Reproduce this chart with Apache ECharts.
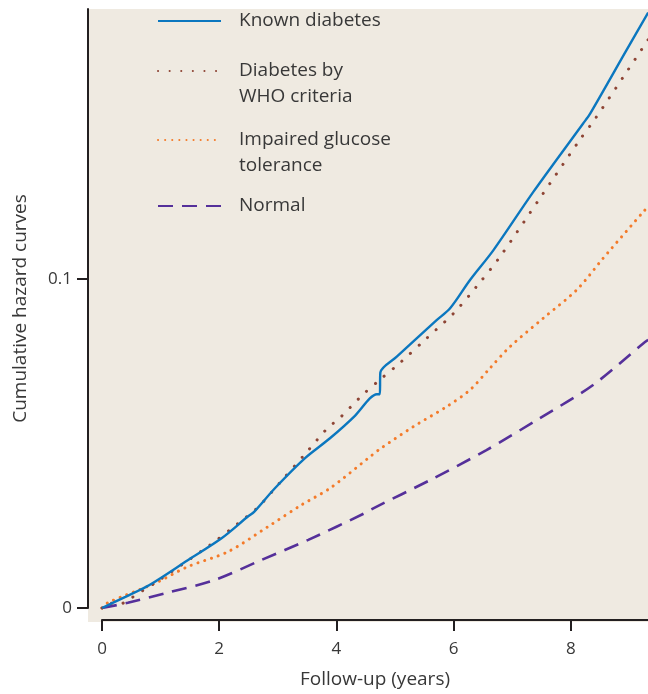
<!DOCTYPE html>
<html>
<head>
<meta charset="utf-8">
<script src="https://cdn.jsdelivr.net/npm/echarts@6/dist/echarts.min.js"></script>
<style>html,body{margin:0;padding:0;background:#fff;}#c{width:648px;height:694px;}</style>
</head>
<body>
<div id="c"></div>
<script>
// ---- data (x = follow-up years, y = cumulative hazard) ----
var seriesNames = ['Known diabetes', 'Diabetes by\nWHO criteria', 'Impaired glucose\ntolerance', 'Normal'];
var knownDiabetes = [[0,0],[0.4,0.0034],[0.81,0.007],[1.47,0.0146],[2.04,0.0212],[2.49,0.0278],[2.6,0.0293],[2.95,0.0364],[3.46,0.0455],[3.89,0.0516],[4.32,0.0585],[4.57,0.0637],[4.69,0.065],[4.74,0.065],[4.75,0.0716],[5.03,0.0764],[5.71,0.0875],[5.94,0.0911],[6.28,0.0997],[6.68,0.1088],[7.36,0.1265],[8.21,0.1473],[8.33,0.1503],[8.95,0.1696],[9.32,0.181]];
var whoDiabetes = [[0,0],[0.1,0.0015],[0.3,0.0012],[0.47,0.0027],[0.67,0.005],[0.98,0.0085],[1.84,0.0191],[2.32,0.0257],[2.66,0.0306],[3.06,0.0386],[3.46,0.0467],[3.86,0.0549],[4.03,0.0573],[4.46,0.065],[4.77,0.0698],[5.09,0.0746],[5.54,0.082],[6.0,0.0896],[6.39,0.0977],[6.78,0.1065],[7.47,0.1245],[8.16,0.1425],[8.41,0.1486],[8.98,0.1637],[9.32,0.1728]];
var impairedGlucose = [[0,0],[0.1,0.0016],[0.9,0.0075],[1.47,0.0126],[2.15,0.0171],[2.83,0.0247],[3.4,0.0313],[3.89,0.0364],[4.54,0.0455],[4.74,0.0483],[5.31,0.0551],[5.88,0.0612],[6.28,0.0663],[6.62,0.0729],[6.96,0.0794],[7.53,0.0881],[8.1,0.0967],[8.55,0.1063],[8.67,0.1088],[9.24,0.1205],[9.32,0.122]];
var normal = [[0,0],[0.44,0.0016],[1.13,0.0047],[1.92,0.0085],[2.72,0.0146],[3.52,0.0207],[4.48,0.0288],[4.63,0.0303],[5.6,0.0389],[6.56,0.048],[7.47,0.0577],[8.38,0.0678],[9.24,0.0805],[9.32,0.0815]];
var xTicks = [0, 2, 4, 6, 8];
var yTicks = [0, 0.1];
var yTickLabels = ['0', '0.1'];

var FONT = '"Open Sans", "Noto Sans", sans-serif';
var TXT = '#383838';
var AX = '#231f20';
var colors = ['#0b77bf', '#8e4535', '#f47b2a', '#55309a'];
var styles = [
  {width: 2.4, type: 'solid'},
  {width: 3, type: [0.1, 11.5], cap: 'round'},
  {width: 3, type: [0.1, 7], cap: 'round'},
  {width: 2.6, type: [15, 9], cap: 'butt'}
];
var datasets = [knownDiabetes, whoDiabetes, impairedGlucose, normal];
var legendTops = [8, 32, 101, 193];

var series = datasets.map(function (d, i) {
  return {
    type: 'line', name: seriesNames[i], data: d,
    xAxisIndex: 0, yAxisIndex: 0,
    symbol: 'none', showSymbol: false, smooth: 0.3,
    lineStyle: Object.assign({color: colors[i]}, styles[i]),
    itemStyle: {color: colors[i]},
    z: 10 - i
  };
});

var legends = seriesNames.map(function (n, i) {
  return {
    data: [n], left: 157, top: legendTops[i], padding: 0,
    itemWidth: 63, itemHeight: 14, selectedMode: false,
    itemStyle: {opacity: 0},
    formatter: function (name) { return name.indexOf('\n') >= 0 ? '\n' + name : name; },
    textStyle: {fontFamily: FONT, fontSize: 19, color: TXT, lineHeight: 26, padding: [0, 0, 0, 13]}
  };
});

var chart = echarts.init(document.getElementById('c'), null, {renderer: 'canvas'});
chart.setOption({
  animation: false,
  backgroundColor: '#ffffff',
  grid: [
    {left: 88, right: 0, top: 9, bottom: 72, show: true, backgroundColor: '#efeae1', borderWidth: 0},
    {left: 102, right: 0, top: 9, bottom: 72, show: false},
    {left: 88, right: 0, top: 9, bottom: 86, show: false}
  ],
  xAxis: [
    {gridIndex: 0, type: 'value', min: -0.239, max: 9.317, show: false},
    {gridIndex: 1, type: 'value', min: 0, max: 9.317, interval: 2, position: 'bottom',
      axisLine: {show: true, lineStyle: {color: AX, width: 2}},
      axisTick: {show: true, length: 11, lineStyle: {color: AX, width: 2}, customValues: xTicks},
      axisLabel: {show: true, margin: 21, fontFamily: FONT, fontSize: 17, color: TXT, customValues: xTicks},
      splitLine: {show: false},
      name: 'Follow-up (years)', nameLocation: 'middle', nameGap: 50,
      nameTextStyle: {fontFamily: FONT, fontSize: 19, color: TXT}},
    {gridIndex: 2, type: 'value', show: false, min: 0, max: 1}
  ],
  yAxis: [
    {gridIndex: 0, type: 'value', min: -0.00426, max: 0.1821, show: false},
    {gridIndex: 1, type: 'value', show: false, min: 0, max: 1},
    {gridIndex: 2, type: 'value', min: 0, max: 0.1821, interval: 0.1, position: 'left',
      axisLine: {show: true, lineStyle: {color: AX, width: 2}},
      axisTick: {show: true, length: 11, lineStyle: {color: AX, width: 2}, customValues: yTicks},
      axisLabel: {show: true, margin: 16, fontFamily: FONT, fontSize: 17, color: TXT, customValues: yTicks,
        formatter: function (v) { var k = yTicks.indexOf(Math.round(v * 1000) / 1000); return k >= 0 ? yTickLabels[k] : ''; }},
      splitLine: {show: false},
      name: 'Cumulative hazard curves', nameLocation: 'middle', nameGap: 58,
      nameTextStyle: {fontFamily: FONT, fontSize: 19, color: TXT}}
  ],
  legend: legends,
  series: series
});
</script>
</body>
</html>
